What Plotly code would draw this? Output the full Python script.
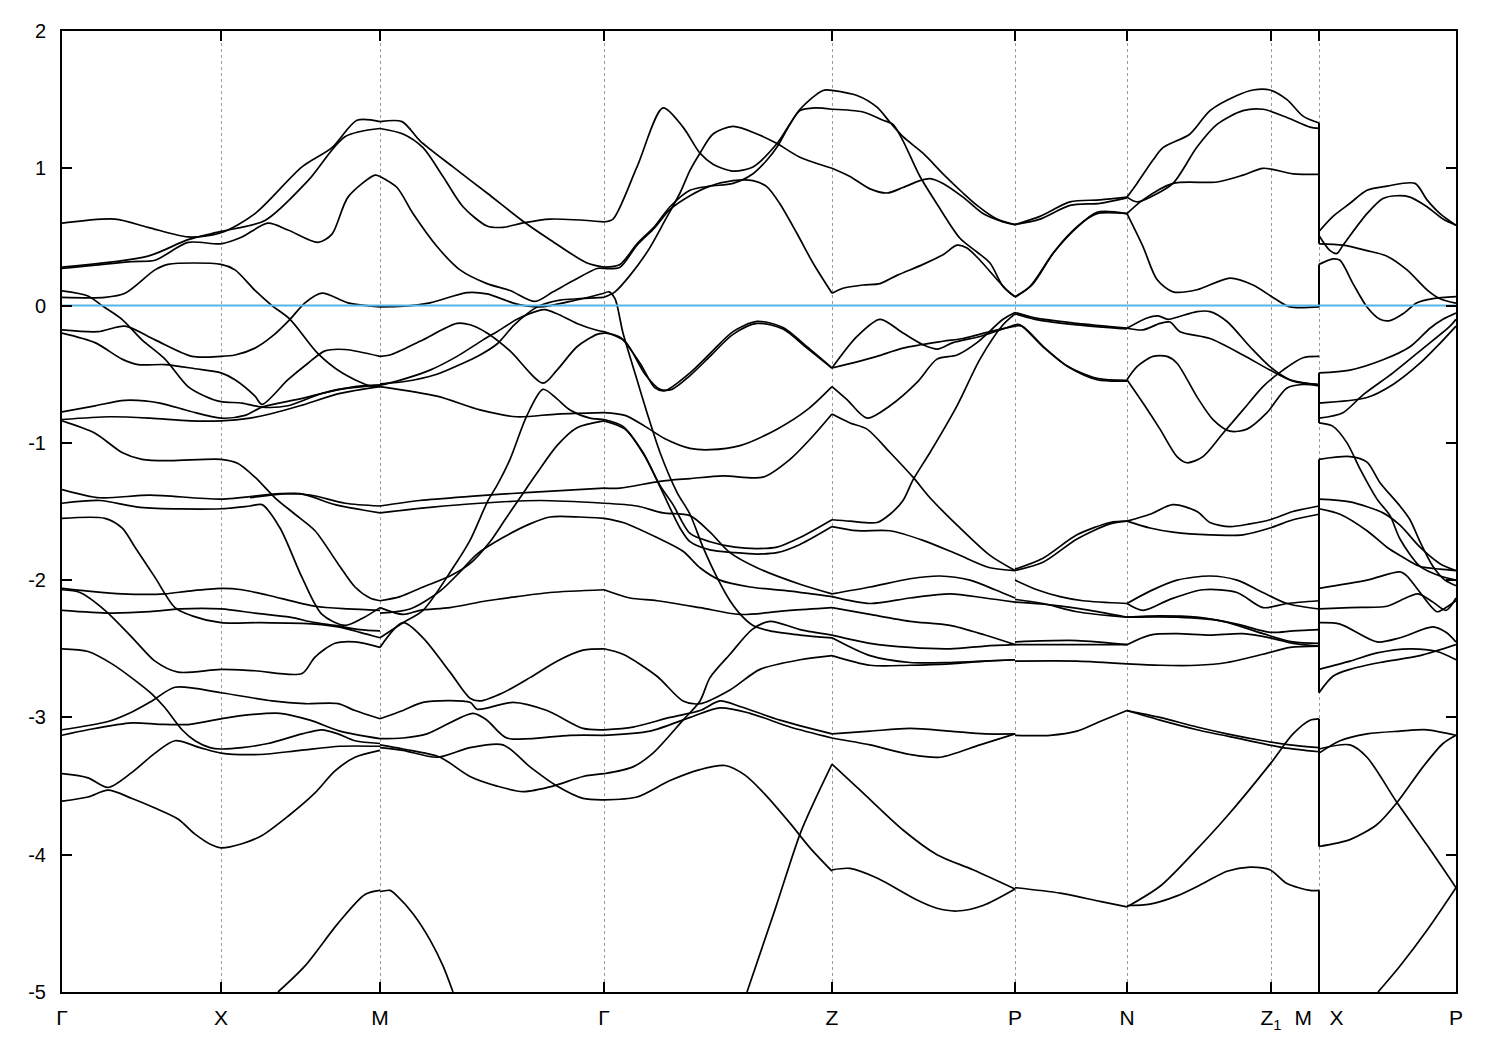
import plotly.graph_objects as go

# High-symmetry points along the k-path (path length, arbitrary units)
K_TICKS = [62, 221, 380, 604, 832, 1015, 1127, 1271, 1319, 1456]
K_LABELS = ["Γ", "X", "M", "Γ", "Z", "P", "N", "Z<sub>1</sub>", "M\u00a0\u00a0\u00a0X", "P"]
E_TICKS = [2, 1, 0, -1, -2, -3, -4, -5]
E_LABELS = ["2", "1", "0", "-1", "-2", "-3", "-4", "-5"]

# ---- band pieces: lists of (k, E[eV]) ----
bands_G_X_M = [
    [(62,0.60),(115,0.63),(148,0.57),(188,0.50),(221,0.53),(255,0.67),(302,1.01),(332,1.15),(357,1.35),(380,1.34)],
    [(62,0.27),(132,0.32),(155,0.33),(188,0.46),(221,0.45),(242,0.50),(268,0.60),(288,0.55),(318,0.46),(332,0.52),(348,0.79),(375,0.95),(380,0.94)],
    [(62,0.28),(148,0.36),(188,0.48),(221,0.54),(265,0.62),(308,0.91),(345,1.23),(380,1.29)],
    [(62,0.06),(105,0.06),(125,0.09),(155,0.26),(168,0.30),(221,0.30),(235,0.26),(255,0.11),(272,0.0),(290,-0.10),(318,-0.35),(342,-0.49),(368,-0.58),(380,-0.59)],
    [(62,0.107),(88,0.07),(102,0.0),(122,-0.10),(142,-0.25),(165,-0.39),(188,-0.59),(205,-0.66),(221,-0.70),(242,-0.71),(262,-0.74),(288,-0.73),(322,-0.64),(355,-0.59),(380,-0.58)],
    [(62,-0.177),(98,-0.19),(125,-0.15),(155,-0.25),(192,-0.37),(221,-0.37),(235,-0.36),(255,-0.31),(272,-0.225),(290,-0.10),(305,0.02),(322,0.09),(348,0.02),(380,-0.01)],
    [(62,-0.20),(95,-0.27),(122,-0.39),(138,-0.43),(165,-0.43),(195,-0.46),(221,-0.49),(235,-0.54),(255,-0.66),(262,-0.72),(288,-0.54),(308,-0.42),(325,-0.33),(345,-0.32),(380,-0.37)],
    [(62,-0.775),(95,-0.73),(125,-0.69),(160,-0.71),(190,-0.77),(221,-0.82),(245,-0.80),(262,-0.74),(300,-0.68),(340,-0.61),(380,-0.58)],
    [(62,-0.83),(110,-0.81),(150,-0.82),(190,-0.84),(221,-0.84),(250,-0.82),(270,-0.79),(300,-0.73),(340,-0.64),(380,-0.59)],
    [(62,-0.84),(95,-0.93),(122,-1.07),(142,-1.12),(170,-1.13),(221,-1.12),(238,-1.15),(255,-1.25),(275,-1.40),(295,-1.52),(315,-1.64),(338,-1.88),(355,-2.05),(370,-2.13),(380,-2.15)],
    [(62,-1.34),(100,-1.40),(150,-1.38),(221,-1.41),(280,-1.37),(310,-1.38),(345,-1.44),(380,-1.46)],
    [(62,-1.44),(100,-1.42),(140,-1.47),(221,-1.48),(250,-1.46),(262,-1.45),(280,-1.62),(302,-1.98),(322,-2.25),(345,-2.33),(362,-2.28),(380,-2.20)],
    [(250,-1.40),(300,-1.37),(335,-1.45),(380,-1.51)],
    [(62,-1.55),(105,-1.55),(122,-1.62),(135,-1.76),(155,-1.98),(175,-2.20),(192,-2.26),(221,-2.31),(260,-2.31),(315,-2.32),(338,-2.34),(360,-2.38),(380,-2.42)],
    [(62,-2.06),(88,-2.08),(122,-2.10),(165,-2.10),(188,-2.08),(221,-2.06),(242,-2.07),(268,-2.11),(315,-2.19),(348,-2.21),(380,-2.22)],
    [(62,-2.07),(80,-2.09),(105,-2.22),(135,-2.44),(155,-2.59),(178,-2.67),(221,-2.65),(255,-2.66),(302,-2.68),(315,-2.56),(335,-2.46),(355,-2.45),(380,-2.49)],
    [(62,-2.22),(110,-2.24),(150,-2.23),(180,-2.21),(221,-2.21),(255,-2.24),(290,-2.27),(315,-2.31),(335,-2.33),(360,-2.36),(380,-2.37)],
    [(62,-2.50),(88,-2.52),(112,-2.61),(135,-2.73),(152,-2.83),(165,-2.93),(182,-3.09),(195,-3.17),(210,-3.22),(221,-3.23),(242,-3.22),(268,-3.19),(302,-3.12),(322,-3.09),(338,-3.12),(355,-3.17),(380,-3.19)],
    [(62,-3.09),(108,-3.03),(132,-2.96),(152,-2.88),(175,-2.78),(221,-2.82),(272,-2.88),(305,-2.90),(338,-2.90),(355,-2.95),(380,-3.01)],
    [(62,-3.13),(88,-3.09),(132,-3.04),(160,-3.05),(190,-3.05),(221,-3.01),(250,-2.98),(280,-2.97),(310,-3.02),(340,-3.10),(380,-3.155)],
    [(62,-3.41),(88,-3.44),(108,-3.51),(132,-3.40),(155,-3.26),(175,-3.17),(200,-3.22),(221,-3.26),(260,-3.27),(300,-3.24),(340,-3.21),(380,-3.21)],
    [(62,-3.61),(88,-3.58),(108,-3.53),(132,-3.59),(155,-3.66),(178,-3.74),(195,-3.85),(212,-3.93),(221,-3.95),(242,-3.92),(262,-3.86),(288,-3.72),(315,-3.55),(335,-3.39),(355,-3.29),(380,-3.24)],
    [(278,-5.0),(305,-4.81),(338,-4.50),(365,-4.29),(380,-4.26)],
]

bands_M_G = [
    [(380,1.34),(402,1.34),(420,1.20),(453,1.01),(487,0.82),(522,0.62),(550,0.48),(587,0.31),(604,0.28)],
    [(380,1.29),(403,1.25),(423,1.15),(443,0.94),(463,0.72),(487,0.58),(503,0.57),(522,0.60),(550,0.63),(604,0.61)],
    [(380,0.94),(397,0.86),(413,0.67),(437,0.43),(460,0.26),(487,0.16),(510,0.11),(535,0.03),(553,0.10),(573,0.18),(597,0.27),(604,0.27)],
    [(380,-0.01),(403,-0.005),(430,0.02),(467,0.095),(487,0.085),(517,0.01),(540,-0.01),(570,0.03),(604,0.09)],
    [(380,-0.57),(403,-0.555),(437,-0.50),(463,-0.42),(480,-0.36),(497,-0.28),(513,-0.15),(527,-0.06),(540,0.0),(560,0.04),(580,0.05),(604,0.06)],
    [(380,-0.37),(390,-0.36),(420,-0.26),(457,-0.13),(470,-0.14),(487,-0.20),(510,-0.33),(543,-0.565),(557,-0.47),(577,-0.30),(597,-0.21),(604,-0.20)],
    [(380,-0.58),(397,-0.55),(430,-0.47),(457,-0.37),(483,-0.25),(497,-0.19),(517,-0.10),(537,-0.04),(545,-0.03),(557,-0.06),(577,-0.13),(597,-0.18),(604,-0.19)],
    [(380,-0.59),(437,-0.66),(480,-0.76),(517,-0.81),(557,-0.79),(604,-0.78)],
    [(380,-2.42),(403,-2.31),(423,-2.22),(453,-1.91),(470,-1.71),(488,-1.42),(497,-1.31),(510,-1.12),(527,-0.80),(543,-0.61),(557,-0.68),(570,-0.76),(590,-0.82),(604,-0.83)],
    [(380,-2.15),(400,-2.12),(423,-2.05),(450,-1.97),(470,-1.88),(490,-1.72),(505,-1.56),(520,-1.40),(537,-1.22),(557,-1.02),(577,-0.89),(604,-0.84)],
    [(380,-2.24),(410,-2.21),(440,-2.08),(460,-1.94),(477,-1.81),(503,-1.69),(530,-1.59),(550,-1.54),(580,-1.54),(604,-1.55)],
    [(380,-2.20),(403,-2.25),(420,-2.22),(450,-2.20),(487,-2.15),(517,-2.12),(550,-2.09),(604,-2.07)],
    [(380,-2.49),(403,-2.31),(423,-2.42),(450,-2.67),(470,-2.86),(480,-2.88),(503,-2.82),(530,-2.71),(557,-2.59),(583,-2.51),(604,-2.50)],
    [(380,-3.01),(403,-2.95),(423,-2.89),(470,-2.89),(477,-2.94),(513,-2.89),(547,-2.95),(583,-3.08),(604,-3.09)],
    [(380,-3.155),(403,-3.15),(427,-3.12),(473,-2.97),(487,-3.02),(507,-3.15),(570,-3.13),(604,-3.13)],
    [(380,-3.20),(403,-3.23),(440,-3.29),(470,-3.43),(497,-3.50),(523,-3.54),(553,-3.50),(583,-3.43),(604,-3.41)],
    [(380,-3.22),(403,-3.24),(437,-3.29),(470,-3.22),(503,-3.20),(530,-3.36),(557,-3.50),(583,-3.59),(604,-3.60)],
    [(380,-1.46),(420,-1.42),(470,-1.39),(530,-1.36),(604,-1.33)],
    [(380,-1.51),(430,-1.47),(480,-1.44),(540,-1.42),(604,-1.44)],
    [(380,-4.27),(390,-4.26),(397,-4.30),(413,-4.43),(430,-4.62),(443,-4.81),(453,-5.0)],
]

bands_G_Z = [
    [(604,0.61),(613,0.63),(637,1.01),(663,1.44),(683,1.30),(700,1.11),(713,1.03),(733,0.98),(753,1.01),(777,1.18),(800,1.43),(823,1.567),(832,1.567)],
    [(604,0.06),(615,0.10),(630,0.22),(648,0.40),(665,0.62),(680,0.82),(690,0.985),(700,1.11),(713,1.25),(733,1.305),(757,1.25),(777,1.18),(800,1.08),(832,1.00)],
    [(604,0.28),(620,0.30),(637,0.45),(655,0.58),(670,0.72),(690,0.84),(710,0.87),(733,0.89),(753,0.96),(767,1.06),(777,1.155),(790,1.32),(800,1.42),(815,1.44),(832,1.43)],
    [(604,0.27),(620,0.28),(637,0.44),(655,0.57),(670,0.70),(690,0.80),(710,0.87),(733,0.91),(753,0.91),(767,0.865),(780,0.74),(797,0.525),(813,0.31),(832,0.09)],
    [(604,0.09),(609,0.10),(615,0.05),(623,-0.20),(637,-0.54),(647,-0.78),(660,-1.07),(677,-1.36),(690,-1.52),(703,-1.76),(717,-1.98),(730,-2.15),(743,-2.27),(753,-2.33),(770,-2.37),(800,-2.40),(832,-2.42)],
    [(604,-0.20),(620,-0.23),(640,-0.42),(655,-0.60),(665,-0.62),(690,-0.49),(710,-0.35),(733,-0.19),(757,-0.115),(783,-0.16),(807,-0.30),(832,-0.455)],
    [(604,-0.19),(625,-0.26),(645,-0.50),(660,-0.61),(672,-0.61),(690,-0.51),(710,-0.37),(733,-0.21),(757,-0.13),(783,-0.17),(807,-0.31),(832,-0.455)],
    [(604,-0.78),(625,-0.80),(645,-0.88),(665,-0.97),(690,-1.04),(710,-1.05),(740,-1.02),(777,-0.90),(807,-0.76),(832,-0.59)],
    [(604,-1.33),(620,-1.33),(660,-1.28),(690,-1.26),(723,-1.24),(763,-1.25),(790,-1.12),(813,-0.95),(832,-0.79)],
    [(604,-0.83),(623,-0.88),(643,-1.07),(660,-1.31),(673,-1.45),(690,-1.66),(710,-1.72),(735,-1.76),(757,-1.77),(777,-1.76),(800,-1.69),(832,-1.56)],
    [(604,-0.84),(625,-0.90),(645,-1.10),(662,-1.35),(680,-1.62),(690,-1.72),(710,-1.78),(735,-1.80),(757,-1.81),(777,-1.80),(800,-1.74),(832,-1.61)],
    [(604,-1.44),(637,-1.46),(663,-1.51),(690,-1.53),(710,-1.65),(730,-1.80),(757,-1.91),(800,-2.03),(832,-2.10)],
    [(604,-1.55),(623,-1.58),(657,-1.69),(683,-1.79),(700,-1.91),(720,-2.0),(750,-2.05),(790,-2.08),(832,-2.12)],
    [(604,-2.07),(630,-2.13),(657,-2.15),(700,-2.20),(740,-2.25),(790,-2.22),(832,-2.20)],
    [(604,-2.50),(623,-2.54),(657,-2.70),(683,-2.88),(700,-2.90),(730,-2.80),(760,-2.65),(800,-2.58),(832,-2.55)],
    [(604,-3.41),(633,-3.36),(653,-3.26),(683,-3.02),(700,-2.88),(710,-2.71),(730,-2.54),(752,-2.36),(770,-2.30),(800,-2.36),(832,-2.40)],
    [(604,-3.09),(633,-3.07),(670,-3.00),(700,-2.95),(720,-2.88),(740,-2.92),(780,-3.02),(832,-3.12)],
    [(604,-3.13),(650,-3.10),(690,-3.0),(720,-2.93),(750,-2.97),(790,-3.07),(832,-3.15)],
    [(604,-3.60),(637,-3.58),(670,-3.46),(700,-3.38),(725,-3.35),(745,-3.42),(765,-3.56),(790,-3.77),(810,-3.95),(832,-4.12)],
    [(747,-5.0),(775,-4.4),(800,-3.85),(815,-3.6),(832,-3.34)],
]

bands_Z_P = [
    [(832,1.567),(857,1.53),(877,1.445),(890,1.335),(903,1.23),(923,1.11),(943,0.96),(963,0.82),(977,0.73),(997,0.63),(1015,0.59)],
    [(832,1.43),(863,1.41),(883,1.35),(893,1.32),(903,1.20),(920,0.94),(937,0.74),(960,0.49),(977,0.39),(990,0.31),(1003,0.14),(1015,0.065)],
    [(832,1.00),(850,0.94),(870,0.85),(887,0.82),(903,0.86),(920,0.91),(930,0.925),(943,0.89),(963,0.79),(983,0.67),(1003,0.61),(1015,0.59)],
    [(832,0.09),(843,0.126),(863,0.15),(880,0.16),(897,0.22),(923,0.30),(943,0.37),(957,0.44),(967,0.42),(980,0.33),(997,0.19),(1010,0.09),(1015,0.065)],
    [(832,-0.455),(857,-0.225),(880,-0.10),(903,-0.20),(923,-0.285),(938,-0.317),(953,-0.27),(980,-0.225),(1015,-0.14)],
    [(832,-0.455),(857,-0.41),(877,-0.37),(903,-0.31),(943,-0.26),(963,-0.24),(990,-0.19),(1015,-0.15)],
    [(832,-0.59),(847,-0.685),(867,-0.82),(890,-0.73),(917,-0.56),(937,-0.39),(957,-0.36),(977,-0.27),(1003,-0.10),(1015,-0.05)],
    [(832,-0.79),(850,-0.855),(867,-0.90),(890,-1.07),(913,-1.25),(930,-1.40),(960,-1.62),(990,-1.82),(1015,-1.93)],
    [(832,-1.56),(850,-1.57),(877,-1.58),(890,-1.52),(903,-1.42),(913,-1.27),(930,-1.07),(957,-0.73),(980,-0.39),(1003,-0.14),(1015,-0.06)],
    [(832,-1.61),(857,-1.64),(890,-1.64),(923,-1.71),(957,-1.81),(990,-1.91),(1015,-1.93)],
    [(832,-2.10),(870,-2.05),(910,-1.99),(940,-1.97),(970,-2.00),(995,-2.07),(1015,-2.13)],
    [(832,-2.12),(870,-2.17),(910,-2.13),(950,-2.10),(985,-2.13),(1015,-2.16)],
    [(832,-2.20),(870,-2.25),(910,-2.30),(950,-2.33),(985,-2.40),(1015,-2.47)],
    [(832,-2.40),(870,-2.46),(910,-2.49),(950,-2.50),(985,-2.48),(1015,-2.47)],
    [(832,-2.42),(870,-2.55),(910,-2.60),(950,-2.60),(985,-2.59),(1015,-2.58)],
    [(832,-2.55),(870,-2.62),(910,-2.62),(950,-2.61),(985,-2.59),(1015,-2.58)],
    [(832,-3.12),(870,-3.10),(910,-3.08),(950,-3.10),(985,-3.12),(1015,-3.12)],
    [(832,-3.15),(870,-3.20),(910,-3.27),(940,-3.29),(980,-3.20),(1015,-3.12)],
    [(832,-3.34),(863,-3.55),(903,-3.82),(937,-4.0),(973,-4.11),(1015,-4.25)],
    [(832,-4.11),(850,-4.10),(877,-4.17),(917,-4.33),(937,-4.39),(957,-4.41),(983,-4.37),(1015,-4.25)],
]

bands_P_N = [
    [(1015,0.59),(1040,0.65),(1070,0.755),(1100,0.77),(1127,0.79)],
    [(1015,0.59),(1040,0.63),(1070,0.73),(1100,0.745),(1127,0.785)],
    [(1015,0.065),(1030,0.14),(1053,0.38),(1077,0.57),(1097,0.68),(1127,0.67)],
    [(1015,0.06),(1032,0.15),(1055,0.40),(1078,0.58),(1097,0.67),(1127,0.67)],
    [(1015,-0.05),(1035,-0.09),(1077,-0.13),(1127,-0.165)],
    [(1015,-0.06),(1035,-0.10),(1077,-0.14),(1127,-0.17)],
    [(1015,-0.14),(1020,-0.14),(1043,-0.30),(1067,-0.44),(1097,-0.53),(1127,-0.545)],
    [(1015,-0.15),(1022,-0.15),(1045,-0.31),(1069,-0.45),(1097,-0.54),(1127,-0.55)],
    [(1015,-1.92),(1043,-1.84),(1077,-1.67),(1110,-1.58),(1127,-1.57)],
    [(1015,-1.93),(1043,-1.87),(1077,-1.70),(1110,-1.59),(1127,-1.57)],
    [(1015,-2.0),(1037,-2.07),(1060,-2.12),(1083,-2.15),(1127,-2.17)],
    [(1015,-2.14),(1043,-2.17),(1077,-2.23),(1127,-2.27)],
    [(1015,-2.16),(1050,-2.18),(1090,-2.22),(1127,-2.27)],
    [(1015,-2.45),(1077,-2.44),(1127,-2.47)],
    [(1015,-2.47),(1077,-2.47),(1127,-2.47)],
    [(1015,-2.59),(1077,-2.59),(1127,-2.61)],
    [(1015,-3.13),(1050,-3.13),(1077,-3.10),(1100,-3.03),(1127,-2.95)],
    [(1015,-4.24),(1060,-4.28),(1100,-4.34),(1127,-4.38)],
]

bands_N_Z1_M = [
    [(1127,0.79),(1137,0.89),(1153,1.06),(1163,1.15),(1190,1.25),(1210,1.42),(1237,1.53),(1253,1.57),(1270,1.57),(1287,1.50),(1303,1.38),(1319,1.33)],
    [(1127,0.79),(1137,0.755),(1153,0.80),(1173,0.89),(1197,1.155),(1217,1.32),(1243,1.42),(1263,1.43),(1287,1.37),(1310,1.30),(1319,1.29)],
    [(1127,0.67),(1143,0.77),(1173,0.89),(1217,0.90),(1243,0.95),(1263,1.0),(1293,0.96),(1319,0.955)],
    [(1127,0.67),(1143,0.43),(1157,0.19),(1173,0.10),(1197,0.115),(1230,0.20),(1253,0.15),(1277,0.04),(1290,-0.01),(1319,-0.01)],
    [(1127,-0.165),(1147,-0.09),(1158,-0.075),(1168,-0.10),(1177,-0.085),(1197,-0.044),(1210,-0.044),(1227,-0.116),(1250,-0.30),(1270,-0.445),(1290,-0.54),(1319,-0.576)],
    [(1127,-0.165),(1143,-0.177),(1160,-0.13),(1170,-0.12),(1180,-0.19),(1210,-0.24),(1243,-0.36),(1270,-0.47),(1293,-0.55),(1319,-0.576)],
    [(1127,-0.54),(1137,-0.445),(1153,-0.37),(1167,-0.37),(1177,-0.42),(1197,-0.665),(1213,-0.83),(1230,-0.915),(1247,-0.90),(1267,-0.78),(1287,-0.60),(1303,-0.575),(1319,-0.585)],
    [(1127,-0.54),(1143,-0.71),(1160,-0.90),(1177,-1.10),(1187,-1.145),(1203,-1.10),(1223,-0.93),(1243,-0.76),(1263,-0.59),(1283,-0.47),(1303,-0.38),(1319,-0.37)],
    [(1127,-1.57),(1150,-1.52),(1173,-1.45),(1197,-1.50),(1210,-1.58),(1230,-1.61),(1250,-1.59),(1270,-1.56),(1293,-1.50),(1319,-1.46)],
    [(1127,-1.57),(1150,-1.62),(1173,-1.65),(1210,-1.67),(1243,-1.67),(1270,-1.62),(1293,-1.56),(1319,-1.52)],
    [(1127,-2.17),(1150,-2.08),(1177,-2.00),(1210,-1.97),(1237,-2.0),(1263,-2.09),(1287,-2.17),(1319,-2.21)],
    [(1127,-2.17),(1143,-2.22),(1170,-2.14),(1203,-2.07),(1237,-2.09),(1263,-2.20),(1287,-2.17),(1319,-2.15)],
    [(1127,-2.27),(1160,-2.26),(1197,-2.27),(1237,-2.32),(1270,-2.38),(1293,-2.37),(1319,-2.36)],
    [(1127,-2.27),(1177,-2.27),(1223,-2.30),(1263,-2.39),(1293,-2.45),(1319,-2.46)],
    [(1127,-2.47),(1150,-2.40),(1177,-2.39),(1210,-2.40),(1243,-2.39),(1270,-2.42),(1293,-2.46),(1319,-2.48)],
    [(1127,-2.61),(1160,-2.62),(1197,-2.62),(1227,-2.60),(1263,-2.54),(1290,-2.49),(1319,-2.48)],
    [(1127,-4.38),(1160,-4.23),(1193,-3.99),(1227,-3.72),(1270,-3.34),(1293,-3.12),(1310,-3.02),(1319,-3.01)],
    [(1127,-2.95),(1160,-3.0),(1197,-3.07),(1227,-3.12),(1263,-3.17),(1290,-3.20),(1319,-3.22)],
    [(1127,-2.95),(1160,-3.02),(1197,-3.09),(1243,-3.16),(1283,-3.22),(1319,-3.25)],
    [(1127,-4.37),(1150,-4.36),(1177,-4.30),(1203,-4.21),(1227,-4.12),(1250,-4.09),(1270,-4.11),(1287,-4.21),(1310,-4.26),(1319,-4.26)],
]

bands_X_P = [
    [(1319,0.54),(1333,0.65),(1350,0.745),(1367,0.84),(1387,0.87),(1415,0.89),(1427,0.77),(1440,0.67),(1456,0.585)],
    [(1319,0.51),(1330,0.40),(1337,0.38),(1343,0.44),(1367,0.67),(1383,0.78),(1397,0.80),(1410,0.79),(1427,0.72),(1443,0.63),(1456,0.585)],
    [(1319,0.45),(1343,0.44),(1367,0.40),(1387,0.36),(1407,0.26),(1427,0.115),(1440,0.05),(1456,0.017)],
    [(1319,0.30),(1333,0.34),(1340,0.33),(1353,0.16),(1367,-0.01),(1380,-0.10),(1390,-0.11),(1403,-0.06),(1417,0.02),(1433,0.05),(1456,0.065)],
    [(1319,-0.49),(1350,-0.47),(1383,-0.395),(1410,-0.30),(1430,-0.165),(1443,-0.10),(1456,-0.055)],
    [(1319,-0.71),(1367,-0.67),(1393,-0.575),(1420,-0.42),(1440,-0.275),(1456,-0.15)],
    [(1319,-0.82),(1343,-0.78),(1363,-0.65),(1393,-0.49),(1420,-0.33),(1450,-0.15),(1456,-0.10)],
    [(1319,-0.855),(1333,-0.88),(1347,-1.0),(1360,-1.19),(1377,-1.41),(1390,-1.53),(1400,-1.70),(1420,-1.90),(1440,-1.97),(1456,-2.0)],
    [(1319,-1.12),(1350,-1.10),(1367,-1.14),(1380,-1.29),(1400,-1.46),(1410,-1.56),(1420,-1.72),(1433,-1.90),(1445,-2.0),(1456,-2.04)],
    [(1319,-1.41),(1350,-1.43),(1383,-1.51),(1400,-1.6),(1420,-1.76),(1440,-1.88),(1456,-1.93)],
    [(1319,-1.48),(1340,-1.52),(1367,-1.64),(1387,-1.76),(1400,-1.82),(1420,-1.90),(1440,-1.92),(1456,-1.93)],
    [(1319,-2.06),(1367,-2.0),(1400,-1.94),(1407,-1.97),(1418,-2.07),(1437,-2.23),(1446,-2.2),(1456,-2.15)],
    [(1319,-2.21),(1350,-2.20),(1387,-2.19),(1400,-2.15),(1418,-2.10),(1433,-2.16),(1446,-2.22),(1456,-2.13)],
    [(1319,-2.31),(1340,-2.32),(1377,-2.45),(1400,-2.42),(1433,-2.34),(1446,-2.38),(1456,-2.45)],
    [(1319,-2.65),(1350,-2.59),(1377,-2.53),(1410,-2.50),(1437,-2.52),(1456,-2.58)],
    [(1319,-2.82),(1333,-2.70),(1350,-2.65),(1380,-2.60),(1420,-2.55),(1456,-2.47)],
    [(1319,-3.23),(1350,-3.20),(1367,-3.29),(1397,-3.62),(1427,-3.93),(1456,-4.24)],
    [(1319,-3.26),(1340,-3.17),(1367,-3.12),(1400,-3.10),(1427,-3.09),(1456,-3.13)],
    [(1319,-3.94),(1350,-3.89),(1377,-3.78),(1397,-3.62),(1423,-3.36),(1443,-3.19),(1456,-3.13)],
    [(1378,-5.0),(1400,-4.81),(1427,-4.55),(1456,-4.24)],
]

# vertical band connections drawn at the M|X discontinuity: (E at M side, E at X side)
jumps_M_X = [(1.33, 0.45), (-0.01, 0.30), (-0.49, -0.855), (-1.12, -2.82),
             (-3.01, -3.94), (-4.26, -5.0)]

K_BREAK = 1319

fig = go.Figure()

for panel in [bands_G_X_M, bands_M_G, bands_G_Z, bands_Z_P, bands_P_N, bands_N_Z1_M, bands_X_P]:
    xs, ys = [], []
    for curve in panel:
        xs += [p[0] for p in curve] + [None]
        ys += [p[1] for p in curve] + [None]
    fig.add_trace(go.Scatter(x=xs, y=ys, mode="lines",
                             line=dict(color="black", width=1.7, shape="spline", smoothing=0.8),
                             connectgaps=False, hoverinfo="skip", showlegend=False))

jx, jy = [], []
for a, b in jumps_M_X:
    jx += [K_BREAK, K_BREAK, None]
    jy += [a, b, None]
fig.add_trace(go.Scatter(x=jx, y=jy, mode="lines", line=dict(color="black", width=2),
                         hoverinfo="skip", showlegend=False, cliponaxis=True))

# Fermi level
fig.add_trace(go.Scatter(x=[K_TICKS[0], K_TICKS[-1]], y=[0, 0], mode="lines",
                         line=dict(color="#56B4E9", width=2), hoverinfo="skip", showlegend=False))

fig.update_layout(
    width=1492, height=1042,
    margin=dict(l=54, r=44, t=21, b=58),
    paper_bgcolor="white", plot_bgcolor="white",
    font=dict(family="Liberation Sans, Arial, sans-serif", size=20, color="black"),
    xaxis=dict(range=[K_TICKS[0], K_TICKS[-1]], tickmode="array", tickvals=K_TICKS, ticktext=K_LABELS,
               ticks="inside", ticklen=10, tickwidth=2, tickcolor="black",
               tickfont=dict(size=21),
               showline=True, linecolor="black", linewidth=2, mirror="ticks",
               showgrid=True, gridcolor="#9a9a9a", gridwidth=1, griddash="3px,3px",
               zeroline=False, ticklabelstandoff=6),
    yaxis=dict(range=[-5, 2], tickmode="array", tickvals=E_TICKS, ticktext=E_LABELS,
               ticks="inside", ticklen=10, tickwidth=2, tickcolor="black",
               showline=True, linecolor="black", linewidth=2, mirror="ticks",
               showgrid=False, zeroline=False, ticklabelstandoff=10),
)

fig.write_html("out.html")
